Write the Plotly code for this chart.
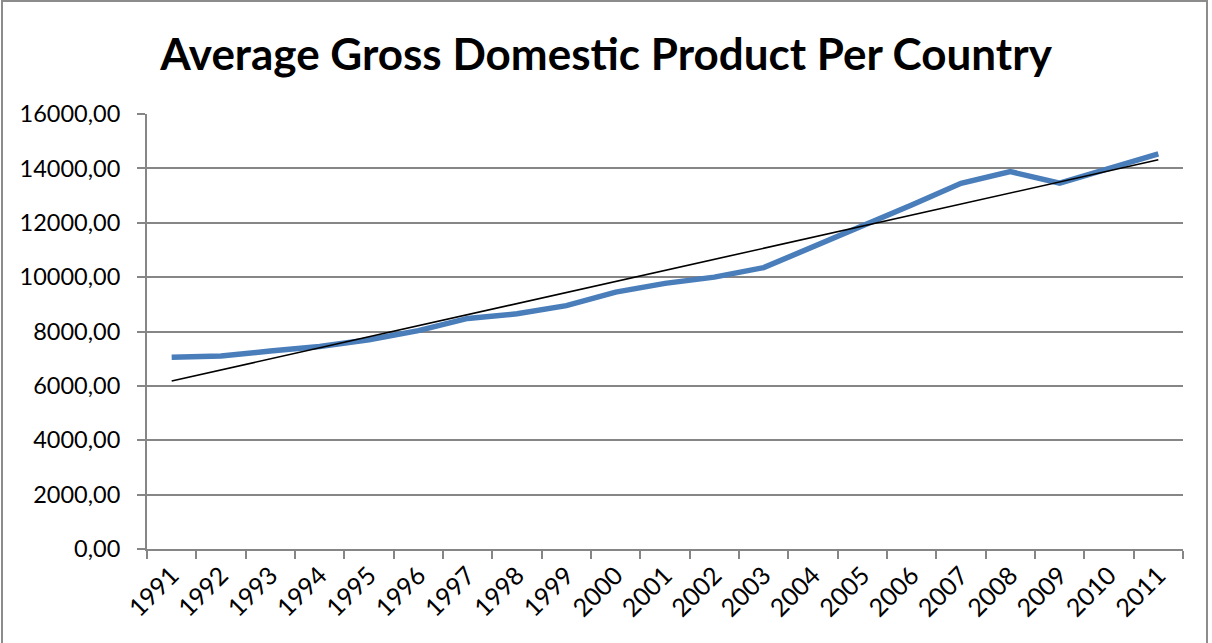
import numpy as np
import plotly.graph_objects as go

# Average GDP per country, 1991-2011
years = [str(y) for y in range(1991, 2012)]
gdp = [7050, 7100, 7280, 7450, 7700, 8030, 8480, 8650, 8950, 9450,
       9770, 10000, 10350, 11120, 11850, 12650, 13450, 13880, 13460, 14000, 14530]
y_ticks = [0, 2000, 4000, 6000, 8000, 10000, 12000, 14000, 16000]
y_tick_text = [f"{v},00" for v in y_ticks]

# Linear trendline (least squares over category index)
idx = np.arange(1, len(gdp) + 1)
slope, intercept = np.polyfit(idx, gdp, 1)
trend = slope * idx + intercept

FONT = "Lato"
GRID = "#868686"

fig = go.Figure()
fig.add_trace(go.Scatter(
    x=years, y=gdp, mode="lines",
    line=dict(color="#4A7EBB", width=5.5),
    hoverinfo="x+y", showlegend=False,
))
fig.add_trace(go.Scatter(
    x=years, y=trend, mode="lines",
    line=dict(color="#000000", width=1.6),
    hoverinfo="skip", showlegend=False,
))

fig.update_layout(
    width=1212, height=643,
    margin=dict(l=147, r=29, t=114, b=94),
    paper_bgcolor="white", plot_bgcolor="white",
    title=dict(
        text="<b>Average Gross Domestic Product Per Country</b>",
        x=0.5, xanchor="center", y=1 - 55 / 643, yanchor="middle",
        font=dict(family=FONT, size=44, color="#000000"),
    ),
    font=dict(family=FONT, color="#000000"),
    xaxis=dict(
        type="category", tickson="boundaries",
        range=[-0.5, len(years) - 0.5],
        showgrid=False, showline=True, linecolor=GRID, linewidth=2,
        ticks="outside", ticklen=8, tickwidth=2, tickcolor=GRID,
        tickangle=-45, tickfont=dict(family=FONT, size=25),
    ),
    yaxis=dict(
        range=[0, 16000], tickvals=y_ticks, ticktext=y_tick_text,
        showgrid=True, gridcolor=GRID, gridwidth=2,
        showline=True, linecolor=GRID, linewidth=2,
        ticks="outside", ticklen=8, tickwidth=2, tickcolor=GRID,
        tickfont=dict(family=FONT, size=23.5), zeroline=False,
        ticklabelstandoff=12,
    ),
    shapes=[dict(
        type="rect", xref="paper", yref="paper",
        x0=-145 / 1036, x1=1.0 + 24 / 1036,
        y0=-0.5, y1=1 + 113 / 435,
        line=dict(color="#8C8C8C", width=2), fillcolor="rgba(0,0,0,0)",
        layer="below",
    )],
)

fig.write_html("out.html")
